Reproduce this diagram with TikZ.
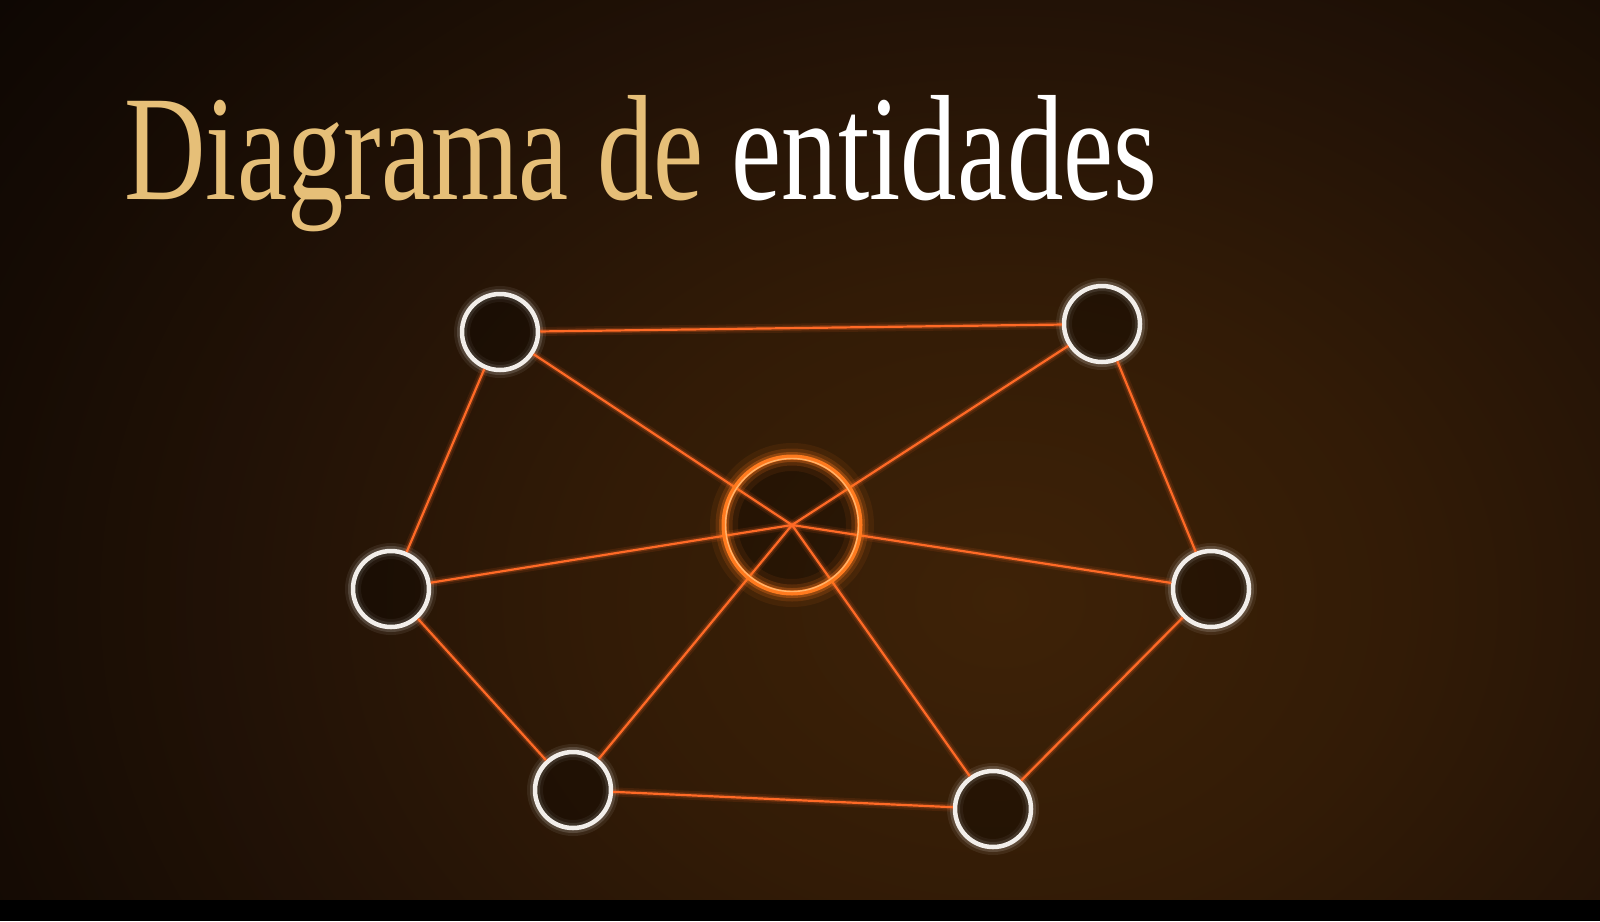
\documentclass[tikz,border=0pt]{standalone}
\usepackage{fontspec}
\setmainfont{Liberation Serif}
\definecolor{bgA}{HTML}{3E2207}
\definecolor{bgB}{HTML}{321B06}
\definecolor{bgC}{HTML}{221206}
\definecolor{bgD}{HTML}{150B04}
\definecolor{bgE}{HTML}{0E0703}
\definecolor{titlegold}{HTML}{E6BF78}
\definecolor{ringwhite}{HTML}{F2EEEA}
\definecolor{linkorange}{HTML}{FF6A26}
\definecolor{huborange}{HTML}{FF7A1E}
\definecolor{hublight}{HTML}{FFB36A}
\pgfdeclareradialshading{bgglow}{\pgfpoint{0bp}{0bp}}{color(0bp)=(bgA); color(8bp)=(bgB); color(15bp)=(bgC); color(21bp)=(bgD); color(25bp)=(bgE); color(50bp)=(bgE)}
\begin{document}
\begin{tikzpicture}[x=1pt,y=-1pt,line join=round,
	entity/.style={circle,draw=ringwhite,line width=4.5pt,fill=black,fill opacity=.3,draw opacity=1,minimum size=76pt,inner sep=0pt,
		preaction={draw=white,line width=16pt,draw opacity=.07,fill opacity=0},
		preaction={draw=white,line width=10pt,draw opacity=.15,fill opacity=0}},
	hubcore/.style={circle,fill=black,fill opacity=.28,minimum size=136pt,inner sep=0pt},
	hubring/.style={draw=huborange,line width=5pt,
		preaction={draw=huborange,line width=28pt,opacity=.08},
		preaction={draw=huborange,line width=17pt,opacity=.16},
		preaction={draw=huborange,line width=10pt,opacity=.3}},
	link/.style={draw=linkorange,line width=2.2pt,
		preaction={draw=linkorange,line width=9pt,opacity=.10},
		preaction={draw=linkorange,line width=5pt,opacity=.22}},
	title/.style={font=\fontsize{150pt}{160pt}\selectfont,text=titlegold,inner sep=0pt,anchor=base west}]
	\useasboundingbox (0,0) rectangle (1600,921);
	% background
	\fill[bgE] (0,0) rectangle (1600,921);
	\begin{scope}
		\clip (0,0) rectangle (1600,900);
		\shade[shading=bgglow] (1000,600) ellipse (1250pt and 1000pt);
	\end{scope}
	\fill[black] (0,900) rectangle (1600,921);
	\node[title] (title) at (124,199) {\scalebox{0.752}[1]{Diagrama de \textcolor{white}{entidades}}};
	% entities
	\foreach \i/\x/\y in {1/500/332,2/1102/324,3/391/589,4/1211/589,5/573/790,6/993/809}
		\node[entity] (e\i) at (\x,\y) {};
	\node[hubcore] (hub) at (792,525) {};
	\foreach \a/\b in {e1/e2,e1/e3,e2/e4,e3/e5,e5/e6,e6/e4}
		\draw[link] (\a)--(\b);
	\foreach \i in {1,...,6}
		\draw[link] (e\i)--(hub.center);
	\draw[hubring] (hub.center) circle (68pt);
	\draw[hublight,line width=1.4pt] (hub.center) circle (66.5pt);
\end{tikzpicture}
\end{document}
